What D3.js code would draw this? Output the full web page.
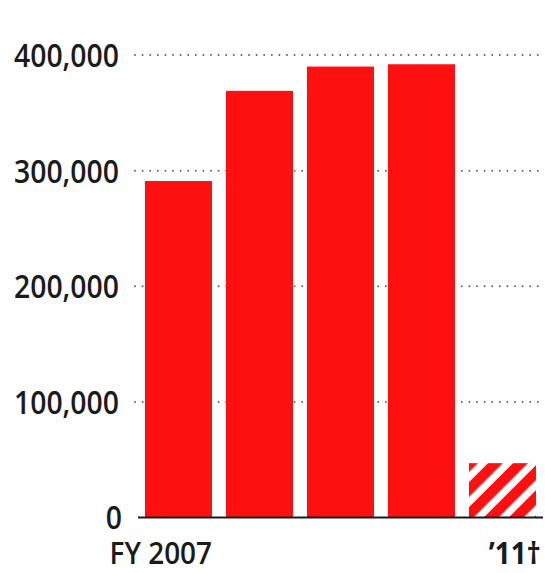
<!DOCTYPE html>
<html>
<head>
<meta charset="utf-8">
<script src="https://cdn.jsdelivr.net/npm/d3@7"></script>
<style>
  html, body { margin: 0; padding: 0; background: #fff; }
  svg { display: block; }
  text { font-family: "Open Sans", "Noto Sans", sans-serif; fill: #1b1b1b; }
</style>
</head>
<body>
<div id="chart"></div>
<script>
// Data
const years = [2007, 2008, 2009, 2010, 2011];
const values = [291000, 369000, 390000, 392000, 47000];
const projected = [false, false, false, false, true];
const xLabels = ["FY 2007", "", "", "", "\u201911\u2020"];
const yTicks = [0, 100000, 200000, 300000, 400000];

const width = 545;
const height = 573;

const x = d3.scaleBand()
    .domain(years)
    .range([145, 536])
    .paddingInner(14 / 81)
    .paddingOuter(0);

const y = d3.scaleLinear()
    .domain([0, 400000])
    .range([517.5, 55]);

const svg = d3.select("#chart")
    .append("svg")
    .attr("width", width)
    .attr("height", height);

// hatch for the projected year
const defs = svg.append("defs");
defs.append("pattern")
    .attr("id", "hatch")
    .attr("patternUnits", "userSpaceOnUse")
    .attr("width", 17.7)
    .attr("height", 17.7)
    .attr("patternTransform", "rotate(45)")
    .append("rect")
    .attr("x", 0)
    .attr("y", 0)
    .attr("width", 10.5)
    .attr("height", 17.7)
    .attr("fill", "#fe1010");

// Dotted grid, behind the bars
svg.append("g")
    .selectAll("line")
    .data(yTicks.filter(d => d > 0))
    .enter()
    .append("line")
    .attr("x1", 135)
    .attr("x2", width)
    .attr("y1", d => y(d))
    .attr("y2", d => y(d))
    .attr("stroke", "#666")
    .attr("stroke-width", 2)
    .attr("stroke-linecap", "round")
    .attr("stroke-dasharray", "0,7.6");

// Tick labels
svg.append("g")
    .selectAll("g")
    .data(yTicks)
    .enter()
    .append("g")
    .attr("transform", d => `translate(${d === 0 ? 122 : 119},${y(d)})`)
    .append("text")
    .attr("transform", "scale(0.86,1)")
    .attr("text-anchor", "end")
    .attr("dy", "0.36em")
    .style("font-size", "33px")
    .style("font-weight", 600)
    .text(d => d3.format(",")(d));

// Bars
svg.append("g")
    .selectAll("rect")
    .data(years)
    .enter()
    .append("rect")
    .attr("x", d => x(d))
    .attr("y", (d, i) => y(values[i]))
    .attr("width", x.bandwidth())
    .attr("height", (d, i) => y(0) - y(values[i]))
    .attr("fill", (d, i) => projected[i] ? "url(#hatch)" : "#fe1010");

// Baseline
svg.append("line")
    .attr("x1", 138)
    .attr("x2", 543)
    .attr("y1", y(0))
    .attr("y2", y(0))
    .attr("stroke", "#1b1b1b")
    .attr("stroke-width", 2);

// Category labels
svg.append("g")
    .selectAll("g")
    .data(years)
    .enter()
    .append("g")
    .attr("transform", (d, i) => `translate(${x(d) + x.bandwidth() + (i === 4 ? 5 : 0)},564)`)
    .append("text")
    .attr("transform", "scale(0.9,1)")
    .attr("text-anchor", "end")
    .style("font-size", "31px")
    .style("font-weight", (d, i) => i === 4 ? 700 : 600)
    .text((d, i) => xLabels[i]);
</script>
</body>
</html>
